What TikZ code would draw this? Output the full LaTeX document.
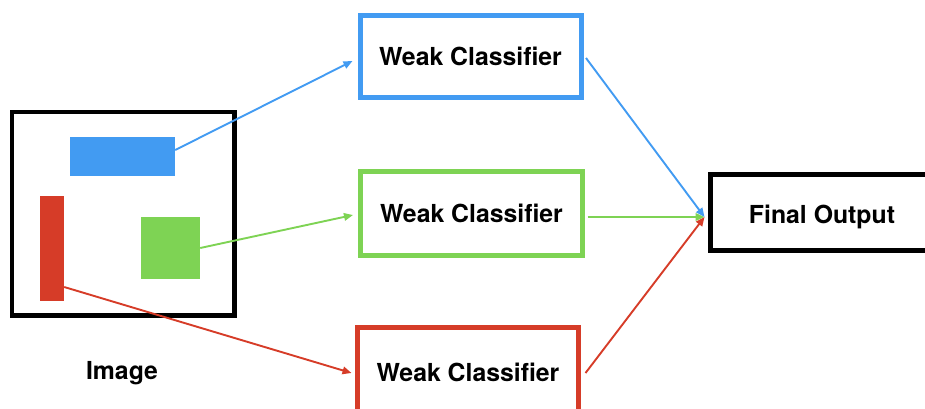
\documentclass[tikz,border=0pt]{standalone}
\usepackage{fontspec}
\setmainfont{TeX Gyre Heros}
\usetikzlibrary{arrows.meta,calc}

\definecolor{cblue}{RGB}{66,155,242}
\definecolor{cgreen}{RGB}{126,211,84}
\definecolor{cred}{RGB}{214,60,40}

\tikzset{
  clsbox/.style={draw, line width=5pt, fill=white, inner sep=0pt,
    font=\fontsize{24.8}{28}\selectfont\bfseries},
  blob/.style={inner sep=0pt, draw=none},
  link/.style={line width=1.9pt, -{Triangle[length=9pt,width=7.5pt]}},
  caption/.style={inner sep=0pt, font=\fontsize{24.8}{28}\selectfont\bfseries}
}

\begin{document}
\begin{tikzpicture}[x=1pt, y=-1pt]
  \useasboundingbox (0,0) rectangle (925,408);
  \clip (0,0) rectangle (925,408);

  % input image frame and its three regions
  \node[draw, line width=4.5pt, inner sep=0pt, minimum width=222.5pt, minimum height=203.5pt]
    (img) at (123.25,213.75) {};
  \node[blob, fill=cblue, minimum width=105pt, minimum height=39pt] (rb) at (122.5,156.5) {};
  \node[blob, fill=cred, minimum width=24pt, minimum height=105pt] (rr) at (52,248.5) {};
  \node[blob, fill=cgreen, minimum width=59pt, minimum height=62pt] (rg) at (170.5,248) {};
  \node[caption] (imglabel) at (122,373) {Image};

  % weak classifiers
  \node[clsbox, draw=cblue, minimum width=221pt, minimum height=82pt] (wb) at (470.5,56) {Weak Classifier};
  \node[clsbox, draw=cgreen, minimum width=222pt, minimum height=84pt] (wg) at (471.5,213) {Weak Classifier};
  \node[clsbox, draw=cred, minimum width=221pt, minimum height=89pt] (wr) at (468,372) {Weak Classifier};

  % combined result
  \node[clsbox, draw=black, minimum width=223pt, minimum height=76pt, text height=27pt] (fo) at (822,212.5) {Final Output};

  % attachment points
  \coordinate (bin) at ($(wb.west)+(-5,5)$);
  \coordinate (gin) at ($(wg.west)+(-5,2)$);
  \coordinate (rin) at ($(wr.west)+(-3.5,1)$);
  \coordinate (join) at ($(fo.west)+(-3.5,4.5)$);
  \coordinate (bsrc) at ($(rb.east)+(0,-6.5)$);
  \coordinate (rsrc) at ($(rr.east)+(0,38.5)$);

  % regions to classifiers
  \draw[link, cblue] (bsrc) -- (bin);
  \draw[link, cgreen] (rg.east) -- (gin);
  \draw[link, cred] (rsrc) -- (rin);

  % classifiers to final output
  \draw[link, cgreen] ($(wg.east)+(2.5,4)$) -- (join);
  \draw[link, cred] ($(wr.east)+(4.5,1)$) -- (join);
  \draw[link, cblue] ($(wb.east)+(2.5,2)$) -- (join);
\end{tikzpicture}
\end{document}
